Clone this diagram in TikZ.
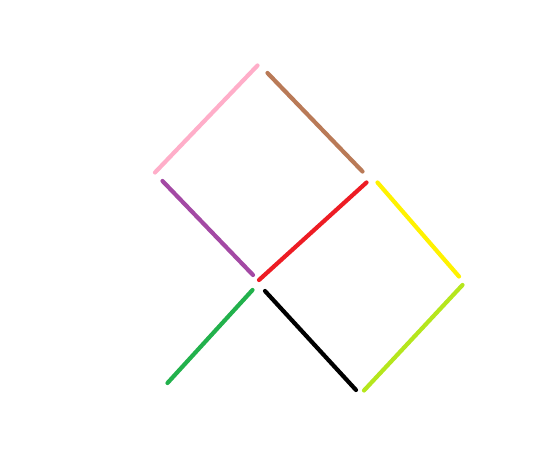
\documentclass[tikz,border=0pt]{standalone}
\usepackage{xcolor}
\definecolor{pinkline}{HTML}{FFAEC9}
\definecolor{brownline}{HTML}{B97A57}
\definecolor{purpleline}{HTML}{A349A4}
\definecolor{redline}{HTML}{ED1C24}
\definecolor{yellowline}{HTML}{FFF200}
\definecolor{limeline}{HTML}{B5E61D}
\definecolor{greenline}{HTML}{22B14C}
\begin{document}
\begin{tikzpicture}[x=1pt,y=-1pt,
    stroke/.style={line width=4.2pt,line cap=round}]
      \useasboundingbox (0,0) rectangle (558,469);
      \coordinate (p1) at (155,172.5);  \coordinate (p2) at (257.5,65.5);
      \coordinate (b1) at (267.5,73);   \coordinate (b2) at (362.5,171.5);
      \coordinate (v1) at (162.5,181);  \coordinate (v2) at (253,275);
      \coordinate (r1) at (259,280);    \coordinate (r2) at (366.5,182.5);
      \coordinate (y1) at (377.5,182.5); \coordinate (y2) at (459,276.5);
      \coordinate (l1) at (462.5,285);  \coordinate (l2) at (364,390.5);
      \coordinate (g1) at (252.5,290);  \coordinate (g2) at (167.5,383);
      \coordinate (k1) at (265,291);    \coordinate (k2) at (356,390);
      \draw[stroke,pinkline] (p1) -- (p2);
      \draw[stroke,brownline] (b1) -- (b2);
      \draw[stroke,purpleline] (v1) -- (v2);
      \draw[stroke,redline] (r1) -- (r2);
      \draw[stroke,yellowline] (y1) -- (y2);
      \draw[stroke,limeline] (l1) -- (l2);
      \draw[stroke,greenline] (g1) -- (g2);
      \draw[stroke,black] (k1) -- (k2);
\end{tikzpicture}
\end{document}
